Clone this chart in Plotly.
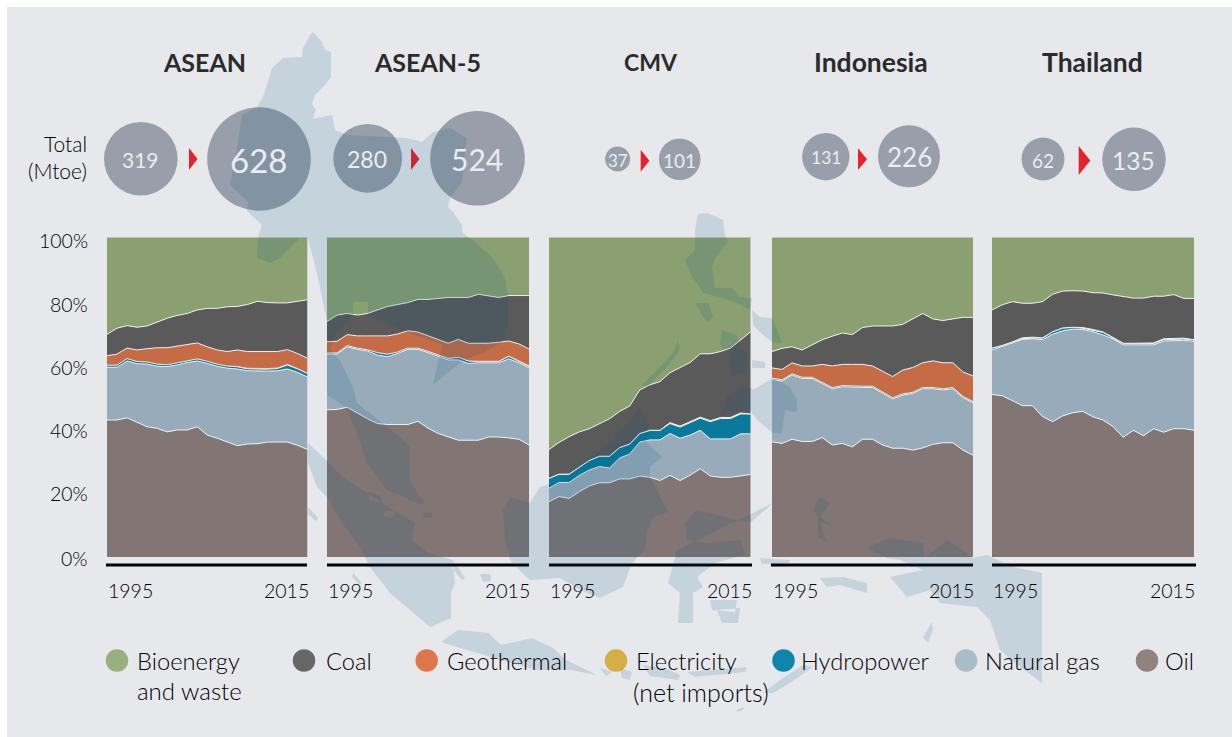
import plotly.graph_objects as go

W, H = 1232, 737
YEARS = list(range(1995, 2016))
FONT = "Lato"

# Data: percentage share of TPES. *_TOP = upper edge of that band
ASEAN_OIL_TOP = [42.8,42.8,43.5,42.0,40.7,40.2,39.1,39.7,39.7,40.7,38.1,37.1,35.9,34.8,35.3,35.4,35.9,35.9,35.9,34.9,33.6]
ASEAN_GAS_TOP = [59.3,59.3,61.25,60.4,60.3,59.6,59.5,60.0,60.8,61.25,60.5,59.6,59.0,58.75,58.2,58.1,58.1,58.2,58.75,57.7,56.25]
ASEAN_HYDRO = [0.7,0.7,0.8,0.7,0.7,0.7,0.6,0.7,0.7,0.7,0.7,0.7,0.7,0.7,0.6,0.6,0.6,0.7,1.25,1.1,1.1]
ASEAN_ELEC = [0,0,0,0,0,0,0,0,0,0,0,0,0,0.1,0.2,0.2,0.2,0.2,0.2,0.1,0.1]
ASEAN_GEO_TOP = [62.9,63.4,65.3,64.7,65.1,65.4,65.4,65.9,66.4,66.9,65.7,64.7,64.2,64.7,64.2,64.2,64.2,64.2,64.8,63.6,62.1]
ASEAN_COAL_TOP = [69.6,71.5,72.3,71.8,72.2,73.4,74.6,75.5,76.1,77.2,77.7,77.7,78.2,78.3,78.9,79.9,79.5,79.4,79.4,79.9,80.4]

A5_OIL_TOP = [46.0,46.1,46.8,44.9,43.2,41.7,41.4,41.4,41.4,42.4,40.3,38.6,37.6,36.5,36.5,36.5,37.5,37.5,37.2,36.8,35.0]
A5_GAS_TOP = [63.4,63.4,65.7,64.9,64.4,63.1,62.6,63.6,64.9,64.9,63.9,62.8,61.6,61.6,60.5,60.7,60.7,60.7,61.9,60.7,59.1]
A5_HYDRO = [0.4,0.4,0.4,0.4,0.4,0.8,0.8,0.5,0.4,0.4,0.4,0.4,0.5,0.8,0.8,0.4,0.4,0.4,0.8,0.4,0.4]
A5_ELEC = [0,0,0,0,0,0,0,0,0,0,0,0,0,0,0,0.1,0.1,0.1,0.1,0.2,0.3]
A5_GEO_TOP = [67.3,67.4,69.5,69.1,69.1,69.1,69.1,69.7,70.7,70.3,69.1,67.9,66.8,68.0,66.8,66.8,66.8,67.1,67.5,66.6,65.0]
A5_COAL_TOP = [73.6,75.6,76.1,75.6,76.1,77.2,78.3,78.9,79.5,80.5,80.5,80.8,81.1,81.1,81.1,82.1,81.6,81.1,81.7,81.7,81.7]

CMV_OIL_TOP = [17.3,18.9,18.3,20.4,22.2,23.2,23.2,24.4,24.4,25.3,24.9,23.9,25.5,23.9,25.6,27.6,25.3,24.9,24.9,25.4,25.8]
CMV_GAS_TOP = [21.5,23.3,23.3,25.5,27.2,28.3,27.8,30.9,32.2,35.9,36.6,36.6,38.6,37.1,38.1,39.6,36.9,36.9,36.9,38.5,38.5]
CMV_HYDRO = [3.1,2.6,2.6,2.6,3.0,3.2,3.7,3.3,3.1,2.7,3.0,3.0,3.1,3.5,3.9,3.8,5.4,6.4,6.4,6.2,6.2]
CMV_ELEC = [0,0,0,0,0,0,0,0,0,0,0,0,0.3,0.3,0.3,0.3,0.3,0.3,0.3,0.3,0]
CMV_GEO_TOP = None
CMV_COAL_TOP = [33.6,35.8,37.6,39.1,40.1,41.7,43.2,45.5,47.2,52.2,53.8,54.8,57.6,59.2,60.8,63.5,63.5,64.2,65.3,67.8,70.4]

IDN_OIL_TOP = [36.0,35.5,36.8,36.1,36.1,37.3,35.0,35.5,34.4,36.8,36.8,35.0,34.0,34.0,33.4,34.1,35.2,35.7,35.7,33.4,31.8]
IDN_GAS_TOP = [55.5,55.0,56.9,55.8,55.8,54.3,52.6,53.2,53.0,53.0,53.0,51.1,49.4,50.6,51.1,52.6,52.6,52.2,52.6,49.8,48.2]
IDN_HYDRO = [0.4]*21
IDN_ELEC = [0]*21
IDN_GEO_TOP = [59.1,58.6,60.7,59.7,59.7,60.2,59.7,60.2,60.2,60.2,59.7,58.0,56.4,58.4,59.2,60.7,61.3,60.7,60.7,57.8,56.6]
IDN_COAL_TOP = [64.2,65.2,65.7,64.7,66.3,67.9,69.0,70.0,69.5,71.7,72.2,72.2,72.2,72.7,74.4,76.1,74.4,73.9,74.4,74.9,74.9]

THA_OIL_TOP = [50.8,50.4,48.9,47.3,47.3,43.9,42.3,44.1,45.1,45.5,43.8,42.8,40.7,37.4,39.6,37.9,40.1,39.0,40.1,40.1,39.6]
THA_GAS_TOP = [64.7,65.7,66.9,68.0,68.2,67.9,69.6,70.7,71.2,71.1,70.4,69.4,68.1,66.3,66.3,66.3,66.3,67.5,67.7,67.7,67.4]
THA_HYDRO = [0.6,0.4,0.3,0.2,0.2,0.5,0.8,0.9,0.5,0.4,0.4,0.8,0.3,0.4,0.4,0.4,0.4,0.4,0.4,0.4,0.4]
THA_ELEC = [0,0,0,0.3,0.3,0.1,0,0,0.1,0.2,0.3,0.1,0.2,0.1,0.1,0.1,0.2,0.3,0.3,0.3,0.1]
THA_GEO_TOP = None
THA_COAL_TOP = [77.2,78.8,79.8,79.3,79.3,79.8,82.1,83.1,83.2,83.1,82.6,82.5,81.9,81.4,80.9,80.9,81.5,81.5,82.0,80.8,80.8]

PANEL_NAMES = ["ASEAN", "ASEAN-5", "CMV", "Indonesia", "Thailand"]
PANEL_DATA = [
    (ASEAN_OIL_TOP, ASEAN_GAS_TOP, ASEAN_HYDRO, ASEAN_ELEC, ASEAN_GEO_TOP, ASEAN_COAL_TOP),
    (A5_OIL_TOP, A5_GAS_TOP, A5_HYDRO, A5_ELEC, A5_GEO_TOP, A5_COAL_TOP),
    (CMV_OIL_TOP, CMV_GAS_TOP, CMV_HYDRO, CMV_ELEC, CMV_GEO_TOP, CMV_COAL_TOP),
    (IDN_OIL_TOP, IDN_GAS_TOP, IDN_HYDRO, IDN_ELEC, IDN_GEO_TOP, IDN_COAL_TOP),
    (THA_OIL_TOP, THA_GAS_TOP, THA_HYDRO, THA_ELEC, THA_GEO_TOP, THA_COAL_TOP),
]
TOTAL_1995 = [319, 280, 37, 131, 62]
TOTAL_2015 = [628, 524, 101, 226, 135]
Y_TICKS = ["100%", "80%", "60%", "40%", "20%", "0%"]

SERIES = ["Oil", "Natural gas", "Hydropower", "Electricity", "Geothermal", "Coal", "Bioenergy and waste"]
AREA_COL = {"Oil": "#827674", "Natural gas": "#98abba", "Hydropower": "#0a7a9c", "Electricity": "#d0a84a",
            "Geothermal": "#c56b46", "Coal": "#5a5a5a", "Bioenergy and waste": "#8aa070"}

# ---- layout constants (pixels) -------------------------------------------
PANEL_X = [(107, 307.5), (327, 529), (549, 750.7), (772, 973), (992, 1194)]
AXIS_X = [(106, 307), (327, 529), (549, 752), (771, 973), (992, 1196)]
Y0, Y100, AXIS_Y = 557, 237, 565
TITLE_X = [204, 427.5, 651, 871, 1092]
TITLE_FS = [25, 25, 23, 26.5, 26.5]
YEAR_Y = 590.5
fx = lambda p: p / W
fy = lambda p: 1 - p / H

fig = go.Figure()
layout = dict(
    width=W, height=H, margin=dict(l=0, r=0, t=0, b=0), paper_bgcolor="#ffffff", plot_bgcolor="rgba(0,0,0,0)",
    showlegend=False, hovermode=False, font=dict(family=FONT, color="#000000", size=19),
)
annotations, shapes = [], []

def note(text, x, y, size=19.5, anchor="center", color="#000000", weight=300):
    annotations.append(dict(text=text, x=fx(x), y=fy(y), xref="paper", yref="paper",
                            xanchor=anchor, yanchor="middle", showarrow=False, borderpad=0,
                            font=dict(family=FONT, size=size, color=color, weight=weight)))

shapes.append(dict(type="rect", xref="paper", yref="paper", x0=fx(7), x1=1, y0=0, y1=fy(7),
                   fillcolor="#e6e8ec", line_width=0, layer="below"))

for i, (name, data) in enumerate(zip(PANEL_NAMES, PANEL_DATA)):
    oil, gas_top, hydro, elec, geo_top, coal_top = data
    gas = [g - o for g, o in zip(gas_top, oil)]
    base = [g + h + e for g, h, e in zip(gas_top, hydro, elec)]
    geo = [max(t - b, 0) for t, b in zip(geo_top, base)] if geo_top else [0] * 21
    under = [b + g for b, g in zip(base, geo)]
    coal = [c - u for c, u in zip(coal_top, under)]
    bio = [100 - c for c in coal_top]
    values = dict(zip(SERIES, [oil, gas, hydro, elec, geo, coal, bio]))
    s = "" if i == 0 else str(i + 1)
    for ser in SERIES:
        fig.add_trace(go.Scatter(x=YEARS, y=values[ser], name=ser, xaxis="x" + s, yaxis="y" + s,
                                 mode="lines", stackgroup="p" + str(i), fillcolor=AREA_COL[ser],
                                 line=dict(color="rgba(240,243,245,0.95)", width=1.0 if ser != "Electricity" else 0.7)))
    layout["xaxis" + s] = dict(domain=[fx(PANEL_X[i][0]), fx(PANEL_X[i][1])], range=[1995, 2015], anchor="free",
                               position=fy(AXIS_Y), showline=False, showticklabels=False, ticks="", showgrid=False, zeroline=False)
    layout["yaxis" + s] = dict(domain=[fy(Y0), fy(Y100)], range=[0, 100], anchor="x" + s, visible=False, fixedrange=True)
    shapes.append(dict(type="line", xref="paper", yref="paper", x0=fx(AXIS_X[i][0]), x1=fx(AXIS_X[i][1]),
                       y0=fy(AXIS_Y), y1=fy(AXIS_Y), line=dict(color="#000000", width=3), layer="below"))
    note("1995", PANEL_X[i][0] - 0.5, YEAR_Y, anchor="left")
    note("2015", PANEL_X[i][1] + 2, YEAR_Y, anchor="right")
    note("<b>%s</b>" % name, TITLE_X[i], 61.5, size=TITLE_FS[i], color="#2b2b2b", weight=400)

for t, y in zip(Y_TICKS, [241, 304, 367, 430, 494, 558]):
    note(t, 88.5, y, anchor="right")
note("Total", 87.5, 143, size=21, anchor="right")
note("(Mtoe)", 87.5, 170, size=21, anchor="right")

# Bubbles on an overlay axis in pixel space
layout["xaxis6"] = dict(domain=[0, 1], range=[0, W], visible=False, fixedrange=True)
layout["yaxis6"] = dict(domain=[0, 1], range=[H, 0], visible=False, fixedrange=True, anchor="x6")
BUB_X = [140.8, 259, 367.7, 477.5, 617.6, 679.7, 825.8, 909, 1043, 1134]
BUB_Y = [158.8, 159, 158.3, 158.3, 159, 159.3, 156.7, 156.3, 159, 159.3]
BUB_R = [36.8, 51.8, 34.4, 47.3, 12.5, 20.8, 23.7, 31, 21.5, 31.8]
BUB_TX = [140.8, 258, 367, 477, 617.6, 679.7, 825.8, 909.5, 1043, 1133]
BUB_FS = [21, 33, 23, 30, 17, 19, 17.5, 26, 19, 24.5]
BUB_T = [v for pair in zip(TOTAL_1995, TOTAL_2015) for v in pair]
fig.add_trace(go.Scatter(x=BUB_X, y=BUB_Y, xaxis="x6", yaxis="y6", mode="markers", name="Total",
                         marker=dict(size=[2 * r for r in BUB_R], color="#989fab", line_width=0, opacity=1)))
for t, x, y, fs in zip(BUB_T, BUB_TX, BUB_Y, BUB_FS):
    note(str(t), x, y + 1, size=fs, color="#eaecf0", weight=400)

# Legend
LEG_LABELS = ["Bioenergy", "Coal", "Geothermal", "Electricity", "Hydropower", "Natural gas", "Oil"]
LEG_COL = ["#98b07c", "#666666", "#e0764c", "#d5ae45", "#0d86ab", "#a9bcca", "#918280"]
LEG_CX = [117, 304, 426.7, 616, 783.5, 966, 1147]
LEG_TX = [135.5, 325, 445.5, 635, 800, 983.5, 1163.5]
fig.add_trace(go.Scatter(x=LEG_CX, y=[660.5] * 7, xaxis="x6", yaxis="y6", mode="markers", name="Legend",
                         marker=dict(size=22.5, color=LEG_COL, line_width=0, opacity=1)))
for t, x in zip(LEG_LABELS, LEG_TX):
    note(t, x, 660.5, size=23.7, anchor="left")
note("and waste", 135.5, 690.5, size=24, anchor="left")
note("(net imports)", 632, 691.5, size=25, anchor="left")

# Red arrows
for x0, x1, y0, y1 in [(189, 197.5, 148, 170), (411, 419.5, 148, 170), (640.7, 649.4, 149.7, 171.7),
                       (858, 867, 148.3, 170), (1078.7, 1090.3, 146, 175)]:
    shapes.append(dict(type="path", xref="paper", yref="paper", fillcolor="#e8212f", line_width=0, layer="above",
                       path="M%f,%f L%f,%f L%f,%f Z" % (fx(x0), fy(y0), fx(x1), fy((y0 + y1) / 2), fx(x0), fy(y1))))

# Decorative background map, pixel outlines, multiplied over everything
MAP = [
    [(313,32),(322,42),(325,50),(331,52),(331,77),(325,85),(315,95),(312,104),(316,110),(313,119),(332,115),(335,130),(347,135),(407,138),(422,142),(433,132),(450,128),(467,138),(465,150),(462,182),(450,198),(448,207),(453,212),(462,225),(463,233),(475,242),(493,258),(505,278),(508,295),(508,325),(502,342),(483,353),(468,358),(457,365),(433,385),(438,362),(443,345),(407,332),(368,315),(368,302),(353,302),(353,315),(335,335),(330,350),(340,360),(352,385),(357,403),(400,437),(410,447),(410,480),(425,505),(417,503),(387,490),(367,463),(358,437),(347,408),(327,395),(327,322),(323,302),(318,278),(308,238),(300,238),(280,258),(270,263),(257,258),(258,238),(262,225),(247,211),(248,202),(230,185),(238,142),(242,115),(257,107),(263,97),(272,68),(283,58),(302,57),(303,48),(310,35)],
    [(308,443),(323,457),(343,477),(367,493),(390,508),(415,523),(412,540),(428,553),(453,560),(455,583),(451,593),(451,618),(430,627),(410,610),(390,593),(370,567),(360,547),(340,520),(327,497),(317,487),(308,463)],
    [(540,487),(563,480),(590,458),(612,440),(632,417),(640,408),(648,423),(647,443),(662,457),(650,467),(650,477),(668,512),(653,517),(647,530),(645,550),(637,557),(630,568),(623,587),(600,598),(580,590),(560,578),(530,580),(522,573),(510,560),(505,540),(503,510),(510,497),(530,503)],
    [(773,503),(750,523),(697,510),(685,523),(687,540),(710,543),(740,540),(745,555),(737,557),(715,563),(697,577),(703,587),(693,593),(693,623),(678,623),(680,593),(668,583),(677,550)],
    [(710,600),(737,600),(735,612),(712,610)],
    [(717,610),(740,608),(738,623),(722,623)],
    [(698,214),(708,213),(723,220),(725,235),(728,242),(715,258),(712,267),(715,288),(732,288),(740,297),(752,298),(750,310),(737,303),(720,297),(703,293),(698,285),(692,277),(685,260),(695,250),(695,230)],
    [(695,303),(708,303),(713,317),(708,323),(703,317)],
    [(678,340),(680,350),(667,367),(647,387),(642,385),(660,367),(673,353)],
    [(722,330),(737,335),(740,347),(723,350),(720,343)],
    [(752,310),(760,317),(772,318),(780,337),(782,343),(772,342),(763,335),(753,325)],
    [(752,360),(765,362),(765,368),(752,368)],
    [(735,347),(747,352),(745,372),(732,376),(728,362)],
    [(722,413),(727,397),(740,387),(750,387),(753,390),(773,378),(790,387),(797,400),(797,412),(785,410),(782,433),(773,433),(757,420),(750,410)],
    [(441,642),(458,630),(488,633),(501,645),(532,638),(553,648),(566,660),(597,675),(571,670),(536,670),(501,660),(467,650)],
    [(600,668),(612,672),(606,676)],
    [(620,668),(632,672),(630,680),(622,678)],
    [(643,665),(665,668),(680,675),(678,680),(650,676)],
    [(687,672),(747,667),(745,672),(695,677)],
    [(763,693),(780,680),(803,665),(813,667),(790,683),(773,693)],
    [(737,710),(743,707),(744,709),(738,712)],
    [(820,578),(843,577),(867,583),(867,593),(840,585),(827,587)],
    [(760,558),(790,560),(788,564),(762,564)],
    [(813,510),(820,497),(830,503),(820,517),(833,525),(820,523),(827,543),(818,537),(818,517)],
    [(867,547),(890,538),(923,543),(925,558),(947,540),(960,548),(972,558),(987,555),(1013,567),(1042,573),(1042,683),(1020,667),(1000,650),(990,620),(977,607),(940,603),(930,590),(907,597),(890,577),(923,570),(900,560),(887,558),(870,550)],
    [(923,637),(932,622),(933,630),(928,643)],
    [(480,574),(490,574),(491,581),(483,582)],
    [(353,573),(362,583),(360,585),(352,577)],
    [(308,507),(318,518),(316,521),(308,514)],
    [(453,560),(465,578),(462,580),(452,568)],
    [(368,492),(380,495),(382,503),(370,500)],
    [(385,510),(396,512),(392,518),(384,516)],
    [(423,513),(433,512),(431,518),(424,518)],
]
path = " ".join("M" + " L".join("%.5f,%.5f" % (fx(x), fy(y)) for x, y in poly) + " Z" for poly in MAP)
shapes.append(dict(type="path", xref="paper", yref="paper", path=path, fillcolor="rgba(0,85,125,0.143)", line_width=0, layer="above"))

layout["annotations"] = annotations
layout["shapes"] = shapes
fig.update_layout(**layout)
fig.write_html("out.html", config=dict(displayModeBar=False),
               post_script="document.body.style.margin='0';document.documentElement.style.overflow='hidden';")
